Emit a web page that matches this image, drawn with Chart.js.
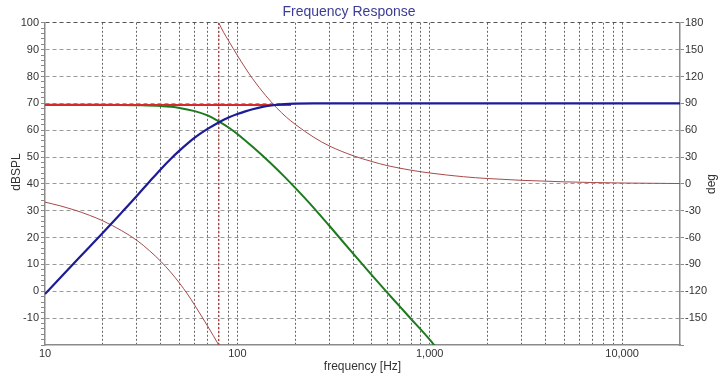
<!DOCTYPE html>
<html>
<head>
<meta charset="utf-8">
<script src="https://cdn.jsdelivr.net/npm/chart.js@4.4.1/dist/chart.umd.min.js"></script>
<style>
html,body{margin:0;padding:0;background:#fff;}
canvas{display:block;}
</style>
</head>
<body>
<canvas id="c" width="720" height="384"></canvas>
<script>
// ---- data ----
const freqBlue = [10,15,20,25,30,35,40,45,50,55,60,65,70,80,90,100,110,120,135,150,175,200,250,20000];
const splBlue  = [-1,12.4,21.8,29.3,35.5,40.9,45.5,49.3,52.4,55.0,57.2,59.0,60.5,62.9,64.7,66.0,67.0,67.8,68.7,69.2,69.7,69.9,70,70];

const freqGreen = [10,20,30,40,50,60,70,80,90,100,120,150,175,200,250,300,400,500,600,700,800,900,1000,1060];
const splGreen  = [69.5,69.5,69.3,69.0,68.3,67.1,65.5,63.3,61.0,58.6,53.8,47.5,42.8,38.5,31.0,24.5,14.0,6.0,-0.4,-5.7,-10.3,-14.3,-18.0,-20.2];

const freqRed = [10,50,100,150,190];
const splRed  = [69.4,69.4,69.4,69.4,69.4];

const freqPhaseLow  = [10,12,14,17,20,25,30,35,40,45,50,55,60,65,70,75,80];
const phaseLow      = [-20.4,-24.5,-28.7,-35,-41.3,-52.2,-63,-74.8,-86.6,-98.6,-110.8,-123,-135.5,-147.5,-158.8,-169.6,-180];
const freqPhaseHigh = [80,85,90,100,110,120,140,160,180,200,250,300,400,500,600,800,1000,1500,2000,3000,5000,10000,20000];
const phaseHigh     = [180,169,160,143.5,129.5,117.5,99,85,74.5,66.5,52,42.5,31.5,25,20.5,15.3,12.2,8,6,4,2.3,1.0,0.4];

const markerFreq = [80, 80];
const markerSpl  = [-20, 100];

const xDecades = [10,100,1000,10000];
const xMultipliers = [1,2,3,4,5,6,7,8,9];
const xLabelValues = [10,100,1000,10000];
const yTicks = [-20,-18,-16,-14,-12,-10,-8,-6,-4,-2,0,2,4,6,8,10,12,14,16,18,20,22,24,26,28,30,32,34,36,38,40,42,44,46,48,50,52,54,56,58,60,62,64,66,68,70,72,74,76,78,80,82,84,86,88,90,92,94,96,98,100];
const y1Ticks = [-180,-150,-120,-90,-60,-30,0,30,60,90,120,150,180];

// ---- build ----
const xTicks = [];
xDecades.forEach(d => xMultipliers.forEach(m => { if (d*m <= 20000) xTicks.push(d*m); }));
xTicks.push(20000);

const pts = (xs, ys) => xs.map((x, i) => ({x: x, y: ys[i]}));
const FONT = '"Liberation Sans", Arial, sans-serif';

const extras = {
  id: 'extras',
  afterLayout(chart) {
    if (chart.titleBlock) { chart.titleBlock.right = 698; }
  },
  afterDraw(chart) {
    const c = chart.ctx;
    c.save();
    c.font = '12px ' + FONT;
    c.fillStyle = '#333';
    c.textAlign = 'center';
    c.textBaseline = 'middle';
    c.save();
    c.translate(17, 172);
    c.rotate(-Math.PI / 2);
    c.fillText('dBSPL', 0, 0);
    c.restore();
    c.translate(712, 184);
    c.rotate(-Math.PI / 2);
    c.fillText('deg', 0, 0);
    c.restore();
  }
};

const tickFont = {family: FONT, size: 11};

new Chart(document.getElementById('c'), {
  type: 'line',
  data: {
    datasets: [
      {label: 'HP', data: pts(freqBlue, splBlue), borderColor: '#1c1c96', borderWidth: 2.2, yAxisID: 'y'},
      {label: 'Sum', data: pts(freqRed, splRed), borderColor: '#d42a2a', borderWidth: 2, yAxisID: 'y'},
      {label: 'LP', data: pts(freqGreen, splGreen), borderColor: '#1e7a1e', borderWidth: 2, yAxisID: 'y'},
      {label: 'Phase', data: pts(freqPhaseLow, phaseLow), borderColor: '#a84a4a', borderWidth: 1, yAxisID: 'y1'},
      {label: 'Phase2', data: pts(freqPhaseHigh, phaseHigh), borderColor: '#a84a4a', borderWidth: 1, yAxisID: 'y1'},
      {label: 'Marker', data: pts(markerFreq, markerSpl), borderColor: '#b04040', borderWidth: 1.5, borderDash: [2,2], yAxisID: 'y', tension: 0}
    ]
  },
  options: {
    responsive: false,
    animation: false,
    devicePixelRatio: 1,
    layout: {padding: {left: 0, right: 0, top: 0, bottom: 0}},
    elements: {point: {radius: 0}, line: {cubicInterpolationMode: 'monotone', fill: false}},
    plugins: {
      legend: {display: false},
      tooltip: {enabled: false},
      title: {
        display: true, text: 'Frequency Response', color: '#3c3c96',
        font: {family: FONT, size: 14, weight: 'normal'},
        padding: {top: 4, bottom: 2}
      }
    },
    scales: {
      x: {
        type: 'logarithmic', min: 10, max: 20000, position: 'bottom',
        afterBuildTicks: s => { s.ticks = xTicks.map(v => ({value: v})); },
        afterFit: s => { s.height = 39; },
        ticks: {
          autoSkip: false, maxRotation: 0, padding: 2, color: '#333', font: tickFont,
          callback: v => xLabelValues.includes(v) ? Number(v).toLocaleString('en-US') : ''
        },
        grid: {
          color: ctx => (ctx.tick && (ctx.tick.value === 10 || ctx.tick.value === 20000)) ? 'transparent' : '#666',
          lineWidth: 1, drawTicks: false
        },
        border: {display: true, color: '#8a8a8a', width: 1.5, dash: ctx => ctx.type === 'tick' ? [2,2] : []},
        title: {display: true, text: 'frequency [Hz]', color: '#333',
          font: {family: FONT, size: 12}, padding: {top: 0, bottom: 10}}
      },
      y: {
        type: 'linear', min: -20, max: 100, position: 'left',
        afterBuildTicks: s => { s.ticks = yTicks.map(v => ({value: v})); },
        afterFit: s => { s.width = 45; },
        ticks: {
          autoSkip: false, padding: 2, color: '#333', font: tickFont,
          callback: v => (v % 10 === 0 && v > -20) ? String(v) : ''
        },
        grid: {
          color: ctx => {
            const v = ctx.tick ? ctx.tick.value : null;
            if (v === null || v === -20 || v % 10 !== 0) return 'transparent';
            return v === 100 ? '#555' : '#9a9a9a';
          },
          tickColor: '#8a8a8a', tickLength: 4, lineWidth: 1
        },
        border: {display: true, color: '#8a8a8a', width: 1.5, dash: ctx => ctx.type === 'tick' ? [4,3] : []},
        title: {display: false}
      },
      y1: {
        type: 'linear', min: -180, max: 180, position: 'right',
        afterBuildTicks: s => { s.ticks = y1Ticks.map(v => ({value: v})); },
        afterFit: s => { s.width = 40; },
        ticks: {
          autoSkip: false, padding: 1, color: '#333', font: tickFont,
          callback: v => v > -180 ? String(v) : ''
        },
        grid: {drawOnChartArea: false, tickColor: '#8a8a8a', tickLength: 4},
        border: {display: true, color: '#8a8a8a', width: 1.5}
      }
    }
  },
  plugins: [extras]
});
</script>
</body>
</html>
